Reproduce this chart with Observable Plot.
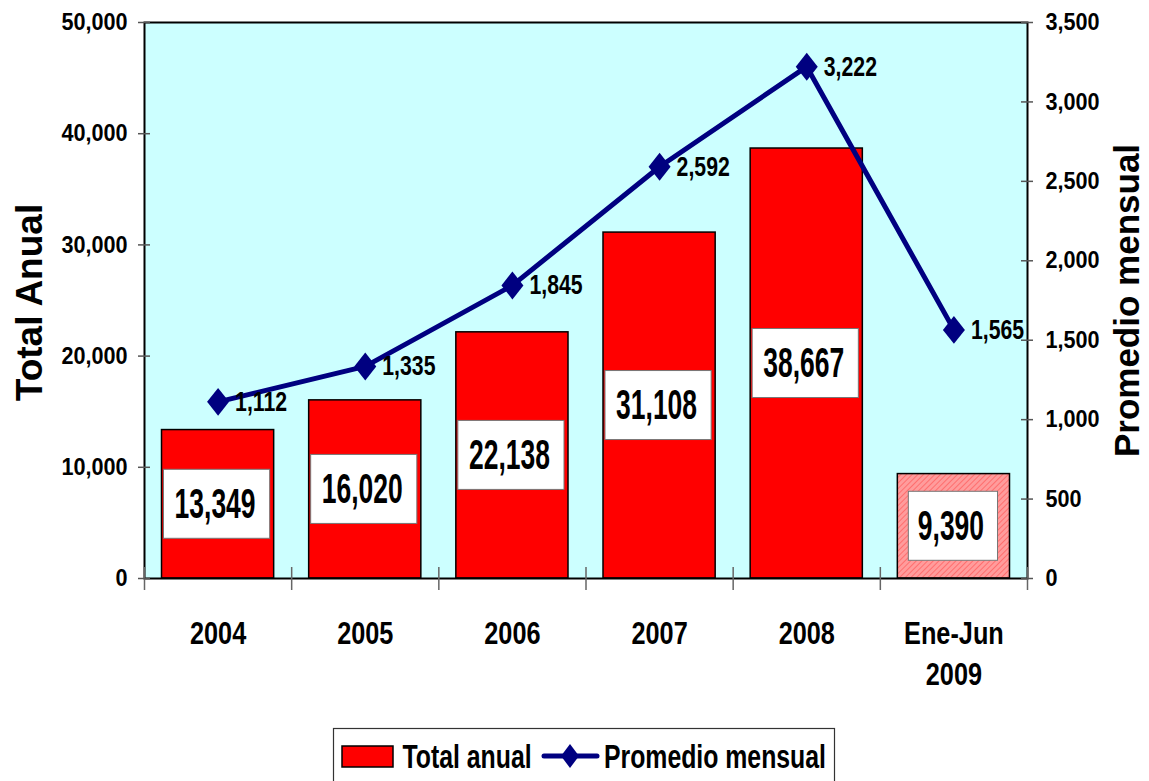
<!DOCTYPE html>
<html><head><meta charset="utf-8">
<script src="https://cdn.jsdelivr.net/npm/d3@7"></script>
<script src="https://cdn.jsdelivr.net/npm/@observablehq/plot@0.6"></script>
<style>
body{margin:0;background:#fff;}
#wrap{position:relative;width:1149px;height:781px;overflow:hidden;background:#fff}
svg{display:block}
</style>
</head><body><div id="wrap"></div>
<script>
// ---- data ----
const categories = ["2004", "2005", "2006", "2007", "2008", "Ene-Jun\n2009"];
const totalAnual = [13349, 16020, 22138, 31108, 38667, 9390];
const promedioMensual = [1112, 1335, 1845, 2592, 3222, 1565];
const partialYear = [false, false, false, false, false, true];
const leftTicks = [0, 10000, 20000, 30000, 40000, 50000];
const rightTicks = [0, 500, 1000, 1500, 2000, 2500, 3000, 3500];
const seriesNames = ["Total anual", "Promedio mensual"];
const axisTitles = ["Total Anual", "Promedio mensual"];

// ---- layout ----
const W = 1149, H = 724, mL = 144, mR = 122, mT = 22, mB = H - 578;
const plotW = W - mL - mR, plotH = H - mT - mB;
const k = 50000 / 3500;
const fmt = d3.format(",");
const FONT = '"Liberation Sans", Arial, Helvetica, sans-serif';
const NAVY = "#000080";

const rows = categories.map((c, i) => ({i, cat: c, total: totalAnual[i], prom: promedioMensual[i], partial: partialYear[i]}));
const bounds = d3.range(categories.length + 1);

const diamond = {draw(ctx, size) {
  const r = Math.sqrt(size / Math.PI), w = r, h = r * 1.27;
  ctx.moveTo(0, -h); ctx.lineTo(w, 0); ctx.lineTo(0, h); ctx.lineTo(-w, 0); ctx.closePath();
}};

const chart = Plot.plot({
  width: W, height: H, marginLeft: mL, marginRight: mR, marginTop: mT, marginBottom: mB,
  style: {fontFamily: FONT, fontWeight: "bold", background: "transparent", overflow: "visible", color: "#000"},
  x: {type: "linear", domain: [0, categories.length], axis: null},
  y: {domain: [0, 50000], axis: null},
  marks: [
    Plot.frame({fill: "#ccffff", stroke: null}),
    // bars
    Plot.rect(rows.filter(d => !d.partial), {x1: "i", x2: d => d.i + 1, y1: 0, y2: "total",
      insetLeft: 17.5, insetRight: 17.5, fill: "#ff0000", stroke: "#000", strokeWidth: 1.5}),
    Plot.rect(rows.filter(d => d.partial), {x1: "i", x2: d => d.i + 1, y1: 0, y2: "total",
      insetLeft: 17.5, insetRight: 17.5, fill: "url(#hatch)", stroke: "#000", strokeWidth: 1.5}),
    // value label boxes
    Plot.rect(rows.filter(d => fmt(d.total).length >= 6), {x1: "i", x2: d => d.i + 1,
      y1: d => d.total / 2, y2: d => d.total / 2, insetLeft: 19.5, insetRight: 21.5,
      insetTop: -34.5, insetBottom: -34.5, fill: "#fff", stroke: "#777", strokeWidth: 1}),
    Plot.rect(rows.filter(d => fmt(d.total).length < 6), {x1: "i", x2: d => d.i + 1,
      y1: d => d.total / 2, y2: d => d.total / 2, insetLeft: 28.5, insetRight: 29.5,
      insetTop: -34.5, insetBottom: -34.5, fill: "#fff", stroke: "#777", strokeWidth: 1}),
    Plot.text(rows, {x: d => d.i + 0.5, y: d => d.total / 2, text: d => fmt(d.total), dx: -3,
      fontSize: 42, fill: "#000"}),
    // line series (right axis, mapped into left-axis units)
    Plot.line(rows, {x: d => d.i + 0.5, y: d => d.prom * k, stroke: NAVY, strokeWidth: 5}),
    Plot.dot(rows, {x: d => d.i + 0.5, y: d => d.prom * k, symbol: diamond, r: 11, fill: NAVY, stroke: null}),
    Plot.text(rows, {x: d => d.i + 0.5, y: d => d.prom * k, text: d => fmt(d.prom), textAnchor: "start",
      dx: 17, dy: 0, fontSize: 28, fill: "#000"}),
    // frame
    Plot.frame({stroke: "#000", strokeWidth: 2}),
    // crossing ticks
    Plot.tickX(bounds, {x: d => d, insetTop: plotH - 11, insetBottom: -12, stroke: "#666", strokeWidth: 1.5}),
    Plot.tickY(leftTicks, {y: d => d, insetLeft: -6, insetRight: plotW - 6, stroke: "#555", strokeWidth: 1.5}),
    Plot.tickY(rightTicks, {y: d => d * k, insetLeft: plotW - 6, insetRight: -6, stroke: "#555", strokeWidth: 1.5}),
    // axes labels
    Plot.axisY(leftTicks, {anchor: "left", tickSize: 0, tickPadding: 17, tickFormat: v => fmt(v), fontSize: 24, label: null}),
    Plot.axisY(rightTicks.map(v => v * k), {anchor: "right", tickSize: 0, tickPadding: 18,
      tickFormat: v => fmt(Math.round(v / k)), fontSize: 24, label: null}),
    Plot.text(rows, {x: d => d.i + 0.5, text: "cat", frameAnchor: "bottom", lineAnchor: "top",
      dy: 37, fontSize: 32, lineHeight: 1.27, fill: "#000"}),
    // axis titles
    Plot.text([axisTitles[0]], {frameAnchor: "left", textAnchor: "middle", rotate: -90, dx: -114, dy: 2, fontSize: 37, fill: "#000"}),
    Plot.text([axisTitles[1]], {frameAnchor: "right", textAnchor: "middle", rotate: -90, dx: 100, dy: 0, fontSize: 35, fill: "#000"})
  ]
});

// hatch pattern for partial-year bar
const defs = d3.select(chart).insert("defs", ":first-child");
const pat = defs.append("pattern").attr("id", "hatch").attr("width", 4).attr("height", 4)
  .attr("patternUnits", "userSpaceOnUse").attr("patternTransform", "rotate(45)");
pat.append("rect").attr("width", 4).attr("height", 4).attr("fill", "#ff9c9c");
pat.append("line").attr("x1", 0).attr("y1", 0).attr("x2", 0).attr("y2", 4).attr("stroke", "#ff5a5a").attr("stroke-width", 1.4);

// condensed text (the original uses a narrow bold face): wrap each text in a scaled group
const groups = [
  {set: new Set(totalAnual.map(fmt)), sx: 0.63},
  {set: new Set(promedioMensual.map(fmt)), sx: 0.76},
  {set: new Set(categories.map(c => c.replace("\n", ""))), sx: 0.79},
  {set: new Set([...leftTicks, ...rightTicks].map(fmt)), sx: 0.9}
];
chart.querySelectorAll("text").forEach(t => {
  const txt = t.textContent;
  const g = groups.find(g => g.set.has(txt));
  if (!g) return;
  let cx = 0, cy = 0;
  const tr = t.getAttribute("transform");
  const m = tr && tr.match(/translate\(\s*([-\d.e]+)[ ,]+([-\d.e]+)\s*\)/);
  if (m) { cx = +m[1]; cy = +m[2]; }
  else { cx = +(t.getAttribute("x") || 0); cy = +(t.getAttribute("y") || 0); }
  const wrapG = document.createElementNS("http://www.w3.org/2000/svg", "g");
  wrapG.setAttribute("transform", `translate(${cx},${cy}) scale(${g.sx},1) translate(${-cx},${-cy})`);
  t.parentNode.insertBefore(wrapG, t);
  wrapG.appendChild(t);
});

const wrap = document.getElementById("wrap");
wrap.appendChild(chart);

// legend (below the chart)
const lg = d3.select(wrap).append("svg").attr("width", W).attr("height", 781 - H)
  .style("font-family", FONT).style("font-weight", "bold");
lg.append("rect").attr("x", 333.5).attr("y", 4.5).attr("width", 501).attr("height", 70)
  .attr("fill", "#fff").attr("stroke", "#333").attr("stroke-width", 1.2);
lg.append("rect").attr("x", 342).attr("y", 22).attr("width", 51).attr("height", 21)
  .attr("fill", "#ff0000").attr("stroke", "#000").attr("stroke-width", 1.5);
lg.append("text").attr("transform", "translate(402.5,44) scale(0.73,1)").attr("font-size", 34).text(seriesNames[0]);
lg.append("line").attr("x1", 544).attr("x2", 597).attr("y1", 32).attr("y2", 32)
  .attr("stroke", NAVY).attr("stroke-width", 5).attr("stroke-linecap", "round");
lg.append("path").attr("d", "M570,20L579,32L570,44L561,32Z").attr("fill", NAVY);
lg.append("text").attr("transform", "translate(604,44) scale(0.73,1)").attr("font-size", 34).text(seriesNames[1]);
</script>
</body></html>
